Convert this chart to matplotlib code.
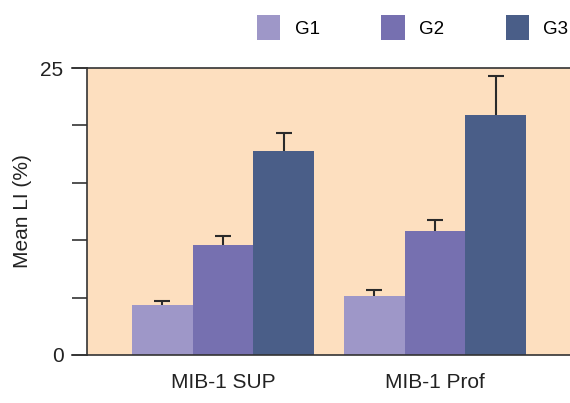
import numpy as np
import matplotlib.pyplot as plt
from matplotlib.patches import Patch

plt.rcParams['font.family'] = ['Liberation Sans', 'DejaVu Sans']

# Data
categories = ["MIB-1 SUP", "MIB-1 Prof"]
groups = ["G1", "G2", "G3"]
means = {
    "G1": [4.36, 5.14],
    "G2": [9.58, 10.80],
    "G3": [17.77, 20.91],
}
errors = {
    "G1": [0.37, 0.52],
    "G2": [0.76, 0.96],
    "G3": [1.59, 3.39],
}
colors = {"G1": "#9E97C8", "G2": "#7670B0", "G3": "#4A5E88"}

fig = plt.figure(figsize=(5.7, 4.03), dpi=100)
ax = fig.add_axes([87 / 570, 48 / 403, 1 - 87 / 570, 287 / 403])
ax.set_facecolor("#FDDFBF")

x = np.arange(len(categories))
width = 0.286
for i, g in enumerate(groups):
    pos = x + (i - 1) * width
    ax.bar(pos, means[g], width, color=colors[g], zorder=2)
    # symmetric bars drawn under the bars, so only the upper half shows
    ax.errorbar(pos, means[g], yerr=errors[g], fmt='none',
                ecolor="#2a2a2a", elinewidth=1.5, capsize=5.5, capthick=1.5, zorder=1)

ax.set_xlim(-0.642, 1.637)
ax.set_ylim(0, 25)
ax.set_yticks([0, 5, 10, 15, 20, 25])
ax.set_yticklabels(["0", "", "", "", "", "25"])
ax.set_xticks(x)
ax.set_xticklabels(categories)

for s in ["left", "top", "bottom"]:
    ax.spines[s].set_color("#333333")
    ax.spines[s].set_linewidth(1.2)
ax.spines["right"].set_visible(False)

ax.tick_params(axis='y', direction='out', length=11, width=1.2, color="#333333",
               labelsize=15, pad=6, labelcolor="#222222")
ax.tick_params(axis='x', length=0, labelsize=15, pad=13, labelcolor="#222222")
ax.set_ylabel("Mean LI (%)", fontsize=15, color="#222222", labelpad=6)

# extend top and bottom lines to the left like the reference
ax.plot([-0.642 - 15 / 212, -0.642], [25, 25], color="#333333", lw=1.2, clip_on=False)
ax.plot([-0.642 - 15 / 212, -0.642], [0, 0], color="#333333", lw=1.2, clip_on=False)

handles = [Patch(facecolor=colors[g], label=g) for g in groups]
fig.legend(handles=handles, loc='upper left', bbox_to_anchor=(257 / 570, 1 - 15 / 403),
           ncol=3, frameon=False, fontsize=13.5, borderpad=0, borderaxespad=0,
           handlelength=1.25, handleheight=1.7, handletextpad=0.75, columnspacing=3.3)

fig.savefig("out.png", dpi=100)
